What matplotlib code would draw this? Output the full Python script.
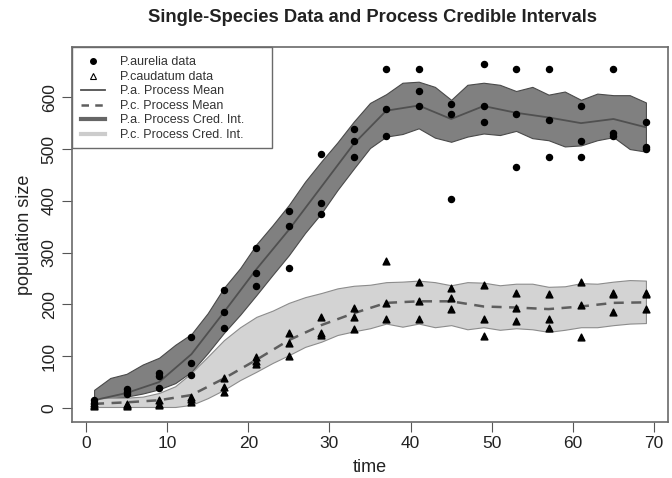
import matplotlib
matplotlib.use("Agg")
import matplotlib.pyplot as plt
from matplotlib.lines import Line2D
from matplotlib.patches import Rectangle

plt.rcParams['font.family'] = ['Liberation Sans', 'DejaVu Sans']

# observation times (every 4 days)
obs_times = [1, 5, 9, 13, 17, 21, 25, 29, 33, 37, 41, 45, 49, 53, 57, 61, 65, 69]

pa_data = [
    [15, 10, 8], [37, 31, 27], [68, 62, 38], [137, 87, 64], [228, 186, 155],
    [309, 260, 235], [380, 351, 270], [490, 396, 374], [539, 516, 485],
    [655, 577, 526], [655, 613, 583], [587, 568, 403], [665, 583, 553],
    [655, 568, 465], [655, 556, 485], [583, 516, 485], [655, 530, 525],
    [552, 503, 500],
]
pc_data = [
    [10, 5, 3], [8, 5, 3], [15, 8, 5], [21, 17, 12], [58, 40, 31],
    [99, 91, 85], [145, 125, 100], [176, 145, 141], [193, 176, 152],
    [284, 202, 172], [243, 206, 172], [232, 212, 191], [237, 172, 140],
    [223, 194, 168], [220, 172, 154], [244, 198, 137], [223, 220, 186],
    [223, 220, 191],
]

# process means at the observation times
pa_mean = [15, 29, 50, 104, 185, 268, 344, 427, 510, 574, 584, 558, 583, 570, 561, 550, 558, 542]
pc_mean = [8, 11, 15, 25, 57, 93, 131, 160, 183, 203, 206, 206, 196, 194, 191, 196, 203, 204]

# credible interval edges, read every 2 days
band_times = [1, 3, 5, 7, 9, 11, 13, 15, 17, 19, 21, 23, 25, 27, 29, 31, 33, 35,
              37, 39, 41, 43, 45, 47, 49, 51, 53, 55, 57, 59, 61, 63, 65, 67, 69]
pa_upper = [35, 58, 66, 84, 97, 122, 143, 183, 232, 270, 316, 353, 392, 437, 476, 513, 553, 589,
            606, 628, 630, 620, 595, 624, 628, 624, 612, 620, 605, 611, 595, 607, 604, 604, 590]
pa_lower = [12, 18, 22, 28, 36, 48, 70, 106, 145, 180, 218, 257, 295, 338, 376, 421, 462, 502,
            524, 529, 540, 522, 514, 524, 530, 527, 535, 521, 517, 505, 507, 517, 523, 500, 495]
pc_upper = [18, 20, 20, 22, 29, 42, 68, 99, 131, 156, 176, 188, 203, 214, 222, 231, 236, 238,
            243, 244, 246, 243, 237, 243, 242, 237, 240, 240, 234, 235, 241, 240, 244, 247, 246]
pc_lower = [2, 2, 2, 2, 2, 2, 6, 19, 35, 54, 70, 87, 102, 118, 128, 141, 148, 154,
            163, 157, 163, 156, 160, 152, 156, 151, 154, 152, 147, 151, 156, 156, 160, 163, 164]

x_ticks = [0, 10, 20, 30, 40, 50, 60, 70]
y_ticks = [0, 100, 200, 300, 400, 500, 600]

fig = plt.figure(figsize=(6.72, 4.78), dpi=100)
ax = fig.add_axes([72 / 672, 56 / 478, 596 / 672, 375 / 478])

# bands
ax.fill_between(band_times, pa_lower, pa_upper, facecolor="#808080",
                edgecolor="#4a4a4a", linewidth=0.8, zorder=1)
ax.fill_between(band_times, pc_lower, pc_upper, facecolor="#d3d3d3",
                edgecolor="#8c8c8c", linewidth=0.8, zorder=2)

# means
ax.plot(obs_times, pa_mean, color="#505050", lw=1.3, zorder=3)
ax.plot(obs_times, pc_mean, color="#5e5e5e", lw=1.8, ls=(0, (4, 3)), zorder=3)

# data points
pa_t, pa_y, pc_t, pc_y = [], [], [], []
for t, vals in zip(obs_times, pa_data):
    pa_t += [t] * len(vals)
    pa_y += vals
for t, vals in zip(obs_times, pc_data):
    pc_t += [t] * len(vals)
    pc_y += vals
ax.scatter(pa_t, pa_y, s=19, marker="o", color="black", zorder=4)
ax.scatter(pc_t, pc_y, s=24, marker="^", color="black", zorder=4)

ax.set_xlim(-1.72, 71.72)
ax.set_ylim(-27, 697)
ax.set_xticks(x_ticks)
ax.set_yticks(y_ticks)
ax.tick_params(axis="both", length=7, width=0.8, color="#555555",
               labelsize=12.5, labelcolor="#222222")
ax.tick_params(axis="x", pad=3)
ax.tick_params(axis="y", pad=4)
for lab in ax.get_yticklabels():
    lab.set_rotation(90)
    lab.set_va("center")
for sp in ax.spines.values():
    sp.set_color("#6a6a6a")
    sp.set_linewidth(1.2)

ax.set_xlabel("time", fontsize=13, color="#222222", labelpad=6)
ax.set_ylabel("population size", fontsize=13, color="#222222", labelpad=6)
fig.suptitle("Single-Species Data and Process Credible Intervals",
             x=372 / 672, y=1 - 18 / 478, va="center",
             fontsize=13.2, fontweight="bold", color="#222222")

# legend box, drawn by hand so it gets R's wider right margin
ax.add_patch(Rectangle((72 / 672, 1 - 148 / 478), 200 / 672, 101 / 478,
                       transform=fig.transFigure, facecolor="white",
                       edgecolor="#6a6a6a", linewidth=1.0, zorder=5,
                       clip_on=False))

handles = [
    Line2D([], [], ls="", marker="o", color="black", markersize=4),
    Line2D([], [], ls="", marker="^", markerfacecolor="white",
           markeredgecolor="black", markersize=4.5, markeredgewidth=0.8),
    Line2D([], [], color="#505050", lw=1.3),
    Line2D([], [], color="#5e5e5e", lw=1.8, ls=(0, (3, 2.5))),
    Line2D([], [], color="#666666", lw=3),
    Line2D([], [], color="#cccccc", lw=3),
]
labels = ["P.aurelia data", "P.caudatum data", "P.a. Process Mean",
          "P.c. Process Mean", "P.a. Process Cred. Int.", "P.c. Process Cred. Int."]
leg = ax.legend(handles, labels, loc="upper left", bbox_to_anchor=(0, 1),
                borderaxespad=0, fontsize=9, frameon=False,
                labelspacing=0.2, handlelength=1.9,
                handletextpad=1.2, borderpad=0.75)
leg.set_zorder(6)
for txt in leg.get_texts():
    txt.set_color("#333333")

fig.savefig("out.png", dpi=100)
